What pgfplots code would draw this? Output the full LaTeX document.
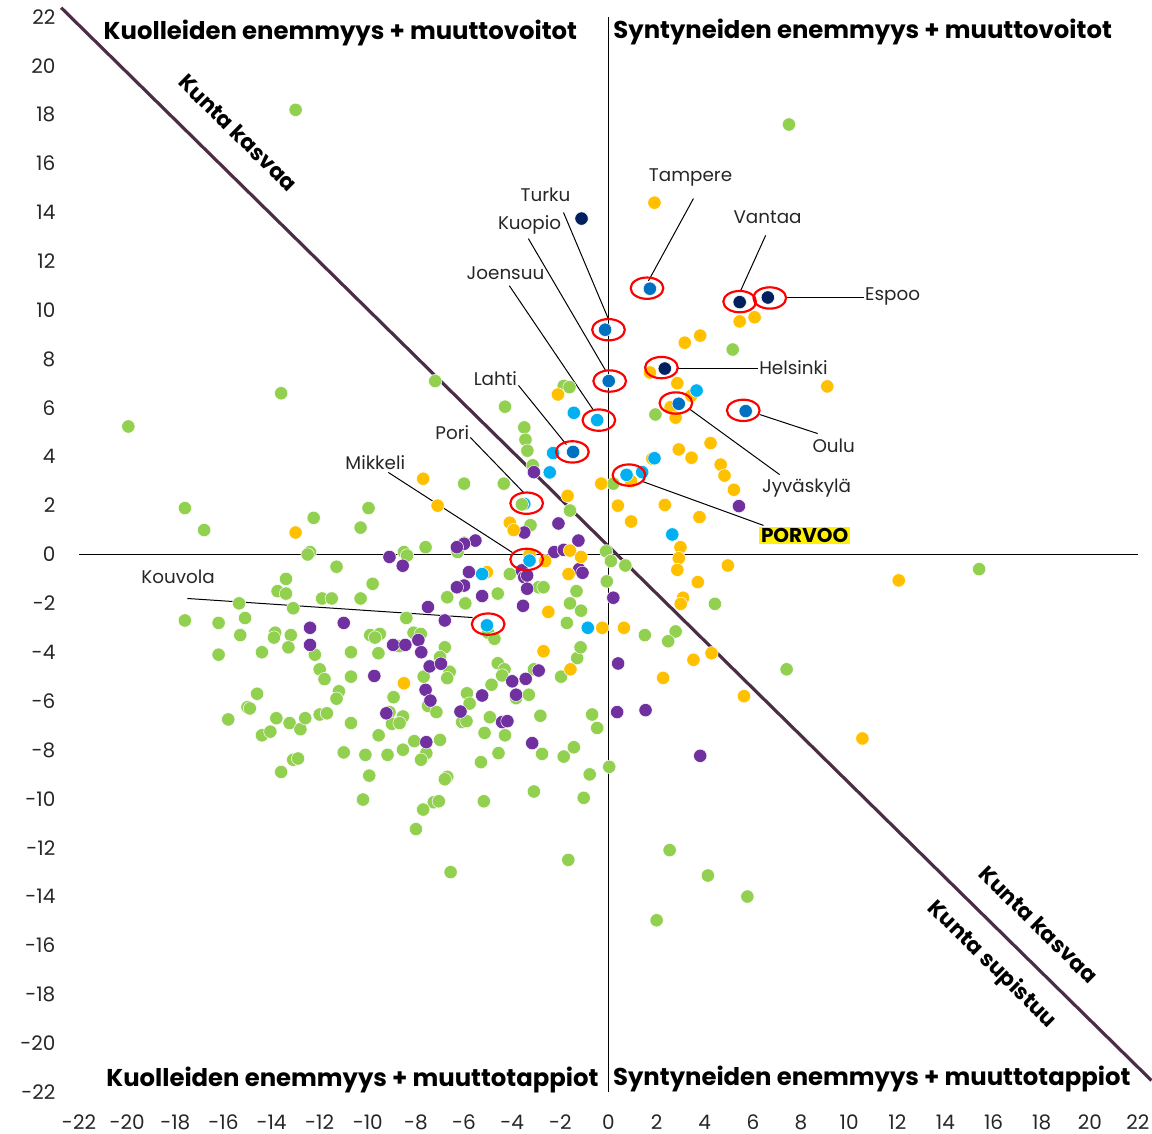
\documentclass[border=0pt]{standalone}
\usepackage{pgfplots}
\pgfplotsset{compat=1.18}
\usepackage{fontspec}
\setmainfont{Poppins}
\definecolor{cgreen}{HTML}{92D050}
\definecolor{cpurple}{HTML}{7030A0}
\definecolor{corange}{HTML}{FFC000}
\definecolor{clblue}{HTML}{00B0F0}
\definecolor{cblue}{HTML}{0070C0}
\definecolor{cnavy}{HTML}{002060}
\definecolor{cline}{HTML}{4B2D46}
\pgfdeclareplotmark{ellip}{\pgfpathellipse{\pgfpointorigin}{\pgfqpoint{9.8pt}{0pt}}{\pgfqpoint{0pt}{6.4pt}}\pgfusepathqstroke}
\newcommand{\cityfont}{\fontsize{11}{11}\selectfont}
\newcommand{\quadfont}{\fontsize{14.6}{14.6}\selectfont\bfseries}
\newcommand{\diagfont}{\fontsize{13}{13}\selectfont\bfseries}
\begin{document}
\begin{tikzpicture}
\useasboundingbox (-47.4pt,-25.2pt) rectangle (643.8pt,655.2pt);
\begin{axis}[
  scale only axis, width=635.4pt, height=645pt,
  xmin=-22, xmax=22, ymin=-22, ymax=22,
  axis x line*=bottom, axis y line*=left,
  axis line style={draw=none},
  xtick={-22,-20,...,22}, ytick={-22,-20,...,22},
  major tick length=0pt,
  tick label style={font=\fontsize{12}{12}\selectfont, text=black!85},
  /pgf/number format/assume math mode=true,
  xticklabel style={anchor=center, yshift=-18pt},
  yticklabel style={anchor=east, inner sep=0pt, xshift=-14pt},
  clip=false,
]
% zero lines
\addplot[black, line width=1pt] coordinates {(-22,0) (22,0)};
\addplot[black, line width=1pt] coordinates {(0,-22) (0,22)};
% diagonal
\addplot[cline, line width=1.9pt] coordinates {(-22.74,22.38) (22.56,-21.53)};

\addplot[only marks, mark=*, mark size=4pt, mark options={draw=white, line width=0.3pt, fill=cgreen}] coordinates {
(-13.0,18.2) (-13.6,6.6) (-19.95,5.24) (-17.6,1.9) (-16.8,1.0) (-7.2,7.1) (7.5,17.6) (15.4,-0.6) (7.4,-4.7) (5.77,-14.0) (4.13,-13.14) (2.54,-12.1) (2.0,-14.97) (-1.67,-12.5) (-6.56,-13.0) (-8.0,-11.24) (-10.2,-10.03) (5.16,8.39) (1.95,5.73) (4.42,-2.02) (2.79,-3.15) (2.48,-3.55) (1.51,-3.3) (0.03,-8.69)
(-12.25,1.5) (-10.3,1.1) (-12.4,0.1) (-12.5,0.0) (-11.3,-0.5) (-13.4,-1.0) (-13.75,-1.5) (-13.4,-1.6) (-15.35,-2.0) (-13.1,-2.2) (-11.9,-1.8) (-11.5,-1.8) (-10.3,-1.8)
(-17.6,-2.7) (-16.2,-2.8) (-15.1,-2.6) (-15.3,-3.3) (-13.85,-3.2) (-13.9,-3.4) (-13.2,-3.3) (-13.3,-3.8) (-14.4,-4.0) (-16.2,-4.1) (-12.2,-4.1) (-10.7,-4.0) (-12.0,-4.7) (-11.8,-5.1) (-10.7,-5.0) (-14.6,-5.7) (-15.0,-6.25) (-14.9,-6.3) (-15.8,-6.75) (-11.2,-5.6) (-11.3,-5.9) (-13.8,-6.7) (-13.25,-6.9) (-12.8,-7.15) (-12.6,-6.7) (-12.0,-6.55) (-11.7,-6.5) (-10.7,-6.9) (-14.4,-7.4) (-14.05,-7.25) (-11.0,-8.1) (-13.1,-8.4) (-12.9,-8.35) (-13.6,-8.9) (-10.1,-8.2)
(-1.86,6.9) (-1.62,6.85) (-4.3,6.05) (-3.5,5.2) (-3.45,4.7) (-3.37,4.25) (-3.15,3.65) (-6.0,2.9) (-4.35,2.9) (0.2,2.9) (-1.6,1.8) (-9.97,1.9) (-3.24,1.2) (-6.0,0.48) (-6.27,0.1) (-7.6,0.3) (-8.5,0.1) (-8.37,-0.04) (-0.1,0.13) (0.1,-0.27) (0.7,-0.45) (-0.07,-1.1) (-1.33,-1.5) (-1.6,-2.0) (-4.1,-0.8) (-2.9,-1.34) (-2.7,-1.34) (-4.6,-1.6) (-6.7,-1.75) (-5.95,-2.0) (-9.8,-1.2) (-1.14,-2.3)
(-1.73,-2.8) (-8.4,-2.6) (-5.0,-3.2) (-4.74,-3.45) (-9.9,-3.3) (-9.5,-3.25) (-9.7,-3.4) (-8.1,-3.2) (-7.8,-3.25) (-8.7,-3.75) (-9.56,-4.04) (-6.8,-3.8) (-7.0,-4.2) (-6.6,-4.8) (-6.7,-5.06) (-7.68,-5.0) (-8.93,-5.84) (-7.5,-6.2) (-7.15,-6.45) (-9.1,-6.45) (-9.0,-6.93) (-8.54,-6.63) (-8.68,-6.9) (-5.88,-5.68) (-5.77,-6.1) (-6.08,-6.86) (-5.9,-6.82) (-4.86,-5.33) (-4.6,-4.45) (-4.32,-4.7) (-4.42,-4.95) (-3.84,-5.88) (-3.31,-5.74) (-3.1,-4.7) (-1.97,-5.0) (-1.3,-4.24) (-1.16,-3.8) (-4.93,-6.66) (-5.15,-7.3) (-4.3,-7.4) (-2.83,-6.6) (-4.57,-8.13) (-5.3,-8.5) (-2.76,-8.16) (-1.86,-8.27) (-1.44,-7.89) (-0.68,-6.55) (-0.47,-7.1) (-0.78,-9.0) (-1.03,-9.96) (-3.1,-9.7) (-5.18,-10.1) (-6.7,-9.1) (-6.8,-9.2) (-7.26,-10.14) (-7.05,-10.1) (-7.7,-10.44) (-9.94,-9.05) (-9.18,-8.2) (-8.54,-7.99) (-9.55,-7.4) (-8.07,-7.64) (-7.0,-7.59) (-7.57,-8.13) (-7.79,-8.4)
};
\addplot[only marks, mark=*, mark size=4pt, mark options={draw=white, line width=0.3pt, fill=cpurple}] coordinates {
(-3.1,3.37) (-3.5,0.9) (-2.08,1.27) (-1.25,0.57) (-5.53,0.57) (-6.0,0.44) (-9.1,-0.1) (-8.55,-0.46) (-6.3,0.3) (-2.25,0.1) (-1.86,0.19) (-1.22,-0.6) (-1.08,-0.75) (0.2,-1.77) (-5.8,-0.72) (-3.6,-0.65) (-3.5,-0.93) (-3.38,-0.86) (-3.38,-1.4) (-6.0,-1.27) (-6.3,-1.34) (-5.25,-1.7) (-7.5,-2.15) (-3.55,-2.1)
(-6.8,-2.7) (-7.9,-3.5) (-8.95,-3.7) (-8.44,-3.7) (-7.78,-4.0) (-7.43,-4.58) (-6.96,-4.47) (-9.73,-4.97) (-7.6,-5.54) (-7.4,-5.98) (-9.23,-6.5) (-6.15,-6.43) (-5.25,-5.77) (-4.0,-5.19) (-3.44,-5.09) (-3.84,-5.74) (-2.9,-4.75) (-4.42,-6.86) (-4.2,-6.82) (-3.17,-7.72) (-7.57,-7.68) (0.4,-4.46) (0.36,-6.45)
(1.54,-6.37) (3.81,-8.24) (5.42,1.98) (-12.4,-3.0) (-11.0,-2.8) (-12.4,-3.7)
};
\addplot[only marks, mark=*, mark size=4pt, mark options={draw=white, line width=0.3pt, fill=corange}] coordinates {
(-13.0,0.9) (-2.1,6.55) (-7.7,3.1) (-0.3,2.9) (-1.7,2.4) (0.39,2.0) (-7.1,2.0) (-4.1,1.3) (-3.94,1.0) (0.94,1.35) (-3.28,0.0) (-2.63,-0.27) (-1.6,0.16) (-1.14,-0.1) (-1.66,-0.8) (-5.05,-0.72) (-2.5,-2.35) (-0.26,-3.0) (0.64,-3.0) (-8.5,-5.27) (-1.58,-4.7) (-2.7,-3.96)
(1.91,14.4) (5.45,9.54) (6.07,9.71) (3.17,8.67) (3.81,8.96) (1.72,7.45) (2.86,7.01) (3.44,6.5) (9.09,6.88)
(2.58,6.03) (2.79,5.6) (2.92,4.3) (3.45,3.96) (4.24,4.56) (1.82,3.92) (4.66,3.68) (4.82,3.23) (5.21,2.65) (0.94,3.0) (2.34,2.03) (3.78,1.53) (2.99,0.3) (2.92,-0.15) (2.86,-0.63) (4.96,-0.45) (3.71,-1.13) (3.1,-1.77) (3.0,-2.02)
(2.27,-5.05) (3.53,-4.31) (4.28,-4.04) (5.63,-5.8) (10.55,-7.53) (12.06,-1.06)
};
\addplot[only marks, mark=*, mark size=4pt, mark options={draw=white, line width=0.3pt, fill=clblue}] coordinates {
(-1.44,5.8) (-0.47,5.5) (-2.3,4.15) (-2.44,3.36) (0.75,3.26) (1.4,3.37) (1.91,3.94) (3.66,6.71) (-3.5,2.07) (-3.28,-0.25) (-5.25,-0.8) (-5.05,-2.9) (-0.86,-3.0) (2.65,0.82)
};
\addplot[only marks, mark=*, mark size=4pt, mark options={draw=white, line width=0.3pt, fill=cgreen}] coordinates {(-3.6,2.05)};
\addplot[only marks, mark=*, mark size=4pt, mark options={draw=white, line width=0.3pt, fill=cblue}] coordinates {
(1.72,10.88) (-0.14,9.2) (0.01,7.1) (-1.47,4.2) (2.92,6.17) (5.7,5.87)
};
\addplot[only marks, mark=*, mark size=4pt, mark options={draw=white, line width=0.3pt, fill=cnavy}] coordinates {
(-1.12,13.75) (5.45,10.33) (6.62,10.52) (2.34,7.61)
};
% highlight ellipses
\addplot[only marks, mark=ellip, red, line width=1.3pt] coordinates {
(0.0,9.2) (0.05,7.1) (-0.4,5.5) (-1.5,4.2) (-3.4,2.1) (-3.4,-0.2) (-5.0,-2.85) (1.6,10.9) (5.45,10.35) (6.7,10.5) (2.2,7.65) (2.8,6.2) (5.6,5.9) (0.85,3.25)
};
% leader lines
\draw[black, line width=0.6pt] (axis cs:-1.87,14.0) -- (axis cs:0,9.63);
\draw[black, line width=0.6pt] (axis cs:-3.33,12.93) -- (axis cs:-0.12,7.53);
\draw[black, line width=0.6pt] (axis cs:-4.12,11.0) -- (axis cs:-0.62,5.9);
\draw[black, line width=0.6pt] (axis cs:-3.74,6.92) -- (axis cs:-1.75,4.5);
\draw[black, line width=0.6pt] (axis cs:-5.74,4.79) -- (axis cs:-3.53,2.54);
\draw[black, line width=0.6pt] (axis cs:-9.15,3.36) -- (axis cs:-3.99,0.08);
\draw[black, line width=0.6pt] (axis cs:-17.5,-1.8) -- (axis cs:-5.65,-2.58);
\draw[black, line width=0.6pt] (axis cs:3.53,14.57) -- (axis cs:1.66,11.2);
\draw[black, line width=0.6pt] (axis cs:6.53,13.06) -- (axis cs:5.49,10.8);
\draw[black, line width=0.6pt] (axis cs:7.36,10.52) -- (axis cs:10.6,10.52);
\draw[black, line width=0.6pt] (axis cs:2.87,7.61) -- (axis cs:6.2,7.61);
\draw[black, line width=0.6pt] (axis cs:6.28,5.73) -- (axis cs:8.69,4.95);
\draw[black, line width=0.6pt] (axis cs:3.33,5.98) -- (axis cs:7.11,3.27);
\draw[black, line width=0.6pt] (axis cs:1.41,2.99) -- (axis cs:6.44,1.19);
% city labels
\node[font=\cityfont, text=black!85] at (axis cs:-2.62,14.74) {Turku};
\node[font=\cityfont, text=black!85] at (axis cs:-3.28,13.5) {Kuopio};
\node[font=\cityfont, text=black!85] at (axis cs:-4.28,11.5) {Joensuu};
\node[font=\cityfont, text=black!85] at (axis cs:-4.7,7.2) {Lahti};
\node[font=\cityfont, text=black!85] at (axis cs:-6.49,5.0) {Pori};
\node[font=\cityfont, text=black!85] at (axis cs:-9.69,3.77) {Mikkeli};
\node[font=\cityfont, text=black!85] at (axis cs:-17.88,-0.9) {Kouvola};
\node[font=\cityfont, text=black!85] at (axis cs:3.41,15.43) {Tampere};
\node[font=\cityfont, text=black!85] at (axis cs:6.61,13.8) {Vantaa};
\node[font=\cityfont, text=black!85, anchor=west, inner sep=0pt] at (axis cs:10.65,10.56) {Espoo};
\node[font=\cityfont, text=black!85, anchor=west, inner sep=0pt] at (axis cs:6.25,7.65) {Helsinki};
\node[font=\cityfont, text=black!85] at (axis cs:9.36,4.46) {Oulu};
\node[font=\cityfont, text=black!85] at (axis cs:8.23,2.7) {Jyväskylä};
\node[font=\fontsize{12}{12}\selectfont\bfseries, fill=yellow, inner sep=1pt] at (axis cs:8.15,0.78) {PORVOO};
% quadrant labels
\node[font=\quadfont] at (axis cs:-11.14,21.33) {Kuolleiden enemmyys + muuttovoitot};
\node[font=\quadfont] at (axis cs:10.56,21.37) {Syntyneiden enemmyys + muuttovoitot};
\node[font=\quadfont] at (axis cs:-10.64,-21.5) {Kuolleiden enemmyys + muuttotappiot};
\node[font=\quadfont] at (axis cs:10.94,-21.45) {Syntyneiden enemmyys + muuttotappiot};
% diagonal labels
\node[font=\diagfont, rotate=-44.5] at (axis cs:-15.39,17.27) {Kunta kasvaa};
\node[font=\diagfont, rotate=-44.5] at (axis cs:17.88,-15.15) {Kunta kasvaa};
\node[font=\diagfont, rotate=-44.5] at (axis cs:15.92,-16.8) {Kunta supistuu};
\end{axis}
\end{tikzpicture}
\end{document}
